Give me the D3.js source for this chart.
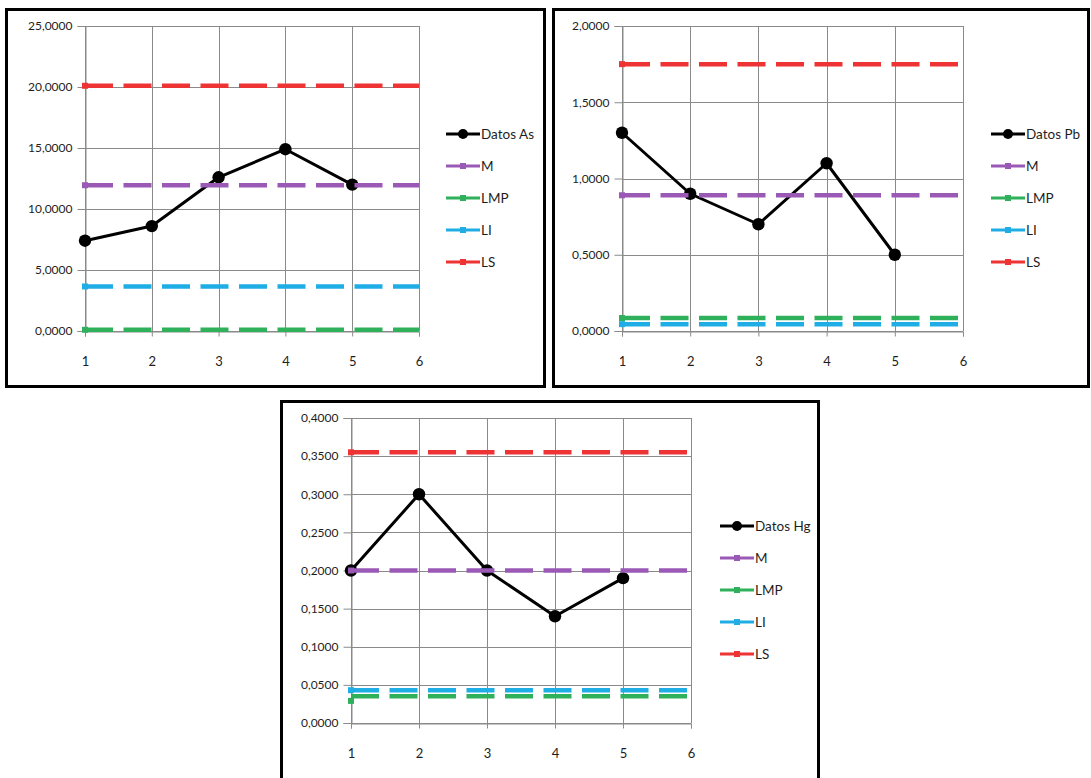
<!DOCTYPE html>
<html lang="es">
<head>
<meta charset="utf-8"/>
<title>Cartas de control As, Pb, Hg</title>
<script src="https://d3js.org/d3.v7.min.js"></script>
<style>
  html, body { margin: 0; padding: 0; background: #fff; }
  svg { display: block; font-family: Lato, "Open Sans", sans-serif; }
</style>
</head>
<body>
<svg id="chart" width="1091" height="778"></svg>
<script>
// ---- data ----
const xDomain = [1, 6];
const xTicks = [1, 2, 3, 4, 5, 6];
const muestras = [1, 2, 3, 4, 5];

// As
const asDatos = [7.4, 8.6, 12.6, 14.9, 12.0];
const asM = 11.95, asLMP = 0.1, asLI = 3.65, asLS = 20.1;
const asTicks = [0, 5, 10, 15, 20, 25];

// Pb
const pbDatos = [1.3, 0.9, 0.7, 1.1, 0.5];
const pbM = 0.89, pbLMP = 0.085, pbLI = 0.045, pbLS = 1.75;
const pbTicks = [0, 0.5, 1.0, 1.5, 2.0];

// Hg
const hgDatos = [0.2, 0.3, 0.2, 0.14, 0.19];
const hgM = 0.2, hgLMP = 0.035, hgLMPfirst = 0.029, hgLI = 0.043, hgLS = 0.355;
const hgTicks = [0, 0.05, 0.1, 0.15, 0.2, 0.25, 0.3, 0.35, 0.4];

const colors = { M: "#9b59b6", LMP: "#2eb15a", LI: "#1fade6", LS: "#ee3334" };

const svg = d3.select("#chart");
svg.append("rect").attr("width", 1091).attr("height", 778).attr("fill", "#fff");

const fmt = v => d3.format(".4f")(v).replace(".", ",");

function drawChart(cfg) {
  const g = svg.append("g");

  // frame
  g.append("rect")
    .attr("x", cfg.box[0]).attr("y", cfg.box[1])
    .attr("width", cfg.box[2]).attr("height", cfg.box[3])
    .attr("fill", "#fff").attr("stroke", "#000").attr("stroke-width", 3);

  const x = d3.scaleLinear().domain(xDomain).range([cfg.left, cfg.right]);
  const y = d3.scaleLinear().domain([0, d3.max(cfg.yTicks)]).range([cfg.bottom, cfg.top]);

  // grid
  g.append("g").selectAll("line").data(cfg.yTicks).join("line")
    .attr("x1", cfg.left).attr("x2", cfg.right)
    .attr("y1", d => Math.round(y(d)) + 0.5).attr("y2", d => Math.round(y(d)) + 0.5)
    .attr("stroke", "#8a8a8a").attr("stroke-width", 1);
  g.append("g").selectAll("line").data(xTicks).join("line")
    .attr("x1", d => Math.round(x(d)) + 0.5).attr("x2", d => Math.round(x(d)) + 0.5)
    .attr("y1", cfg.top).attr("y2", cfg.bottom)
    .attr("stroke", "#8a8a8a").attr("stroke-width", 1);

  // axes
  const yAxis = g.append("g")
    .attr("transform", `translate(${Math.round(cfg.left) + 0.5},0)`)
    .call(d3.axisLeft(y).tickValues(cfg.yTicks).tickSize(8).tickPadding(5).tickFormat(fmt));
  const xAxis = g.append("g")
    .attr("transform", `translate(0,${Math.round(cfg.bottom) + 0.5})`)
    .call(d3.axisBottom(x).tickValues(xTicks).tickSize(5).tickPadding(20).tickFormat(d3.format("d")));
  [yAxis, xAxis].forEach(a => {
    a.attr("font-size", null).attr("font-family", null);
    a.select(".domain").attr("stroke", "#8a8a8a");
    a.selectAll(".tick line").attr("stroke", "#8a8a8a");
    a.selectAll("text").attr("fill", "#1e1e1e").style("font-size", "12px");
  });
  xAxis.selectAll("text").style("font-size", "13px");

  // data series
  const line = d3.line().x((d, i) => x(muestras[i])).y(d => y(d));
  g.append("path").datum(cfg.datos)
    .attr("d", line).attr("fill", "none")
    .attr("stroke", "#000").attr("stroke-width", 3).attr("stroke-linejoin", "round");
  g.append("g").selectAll("circle").data(cfg.datos).join("circle")
    .attr("cx", (d, i) => x(muestras[i])).attr("cy", d => y(d))
    .attr("r", 6.2).attr("fill", "#000");

  // limit lines
  cfg.limits.forEach(l => {
    g.append("line")
      .attr("x1", x(xDomain[0])).attr("x2", x(xDomain[1]))
      .attr("y1", y(l.value)).attr("y2", y(l.value))
      .attr("stroke", colors[l.name]).attr("stroke-width", 4.5)
      .attr("stroke-dasharray", "28,10.5");
    const mv = l.first !== undefined ? l.first : l.value;
    g.append("rect")
      .attr("x", x(xDomain[0]) - 3).attr("y", y(mv) - 3)
      .attr("width", 6).attr("height", 6)
      .attr("fill", colors[l.name]);
  });

  // legend
  const entries = [{ name: cfg.datosName, color: "#000", circle: true }]
    .concat(cfg.limits.map(l => ({ name: l.name, color: colors[l.name] })));
  const lg = g.append("g").attr("transform", `translate(${cfg.legend[0]},${cfg.legend[1]})`);
  const item = lg.selectAll("g").data(entries).join("g")
    .attr("transform", (d, i) => `translate(0,${i * 32})`);
  item.append("line").attr("x1", 0).attr("x2", 34).attr("y1", 0).attr("y2", 0)
    .attr("stroke", d => d.color).attr("stroke-width", 3);
  item.filter(d => d.circle).append("circle").attr("cx", 17).attr("cy", 0).attr("r", 5).attr("fill", "#000");
  item.filter(d => !d.circle).append("rect").attr("x", 14).attr("y", -3).attr("width", 6).attr("height", 6)
    .attr("fill", d => d.color);
  item.append("text").attr("x", 35).attr("y", 0).attr("dy", "0.36em")
    .attr("font-size", 13.5).attr("fill", "#1e1e1e").text(d => d.name);
}

drawChart({
  box: [6.5, 9.5, 538, 377],
  left: 85, right: 419, top: 26, bottom: 331,
  yTicks: asTicks, datos: asDatos, datosName: "Datos As",
  limits: [{ name: "M", value: asM }, { name: "LMP", value: asLMP },
           { name: "LI", value: asLI }, { name: "LS", value: asLS }],
  legend: [446, 134]
});

drawChart({
  box: [553.5, 9.5, 535, 377],
  left: 622, right: 963, top: 26, bottom: 331,
  yTicks: pbTicks, datos: pbDatos, datosName: "Datos Pb",
  limits: [{ name: "M", value: pbM }, { name: "LMP", value: pbLMP },
           { name: "LI", value: pbLI }, { name: "LS", value: pbLS }],
  legend: [991, 134]
});

drawChart({
  box: [281.5, 401.5, 537, 400],
  left: 351, right: 691, top: 418, bottom: 723,
  yTicks: hgTicks, datos: hgDatos, datosName: "Datos Hg",
  limits: [{ name: "M", value: hgM }, { name: "LMP", value: hgLMP, first: hgLMPfirst },
           { name: "LI", value: hgLI }, { name: "LS", value: hgLS }],
  legend: [720, 526]
});
</script>
</body>
</html>
